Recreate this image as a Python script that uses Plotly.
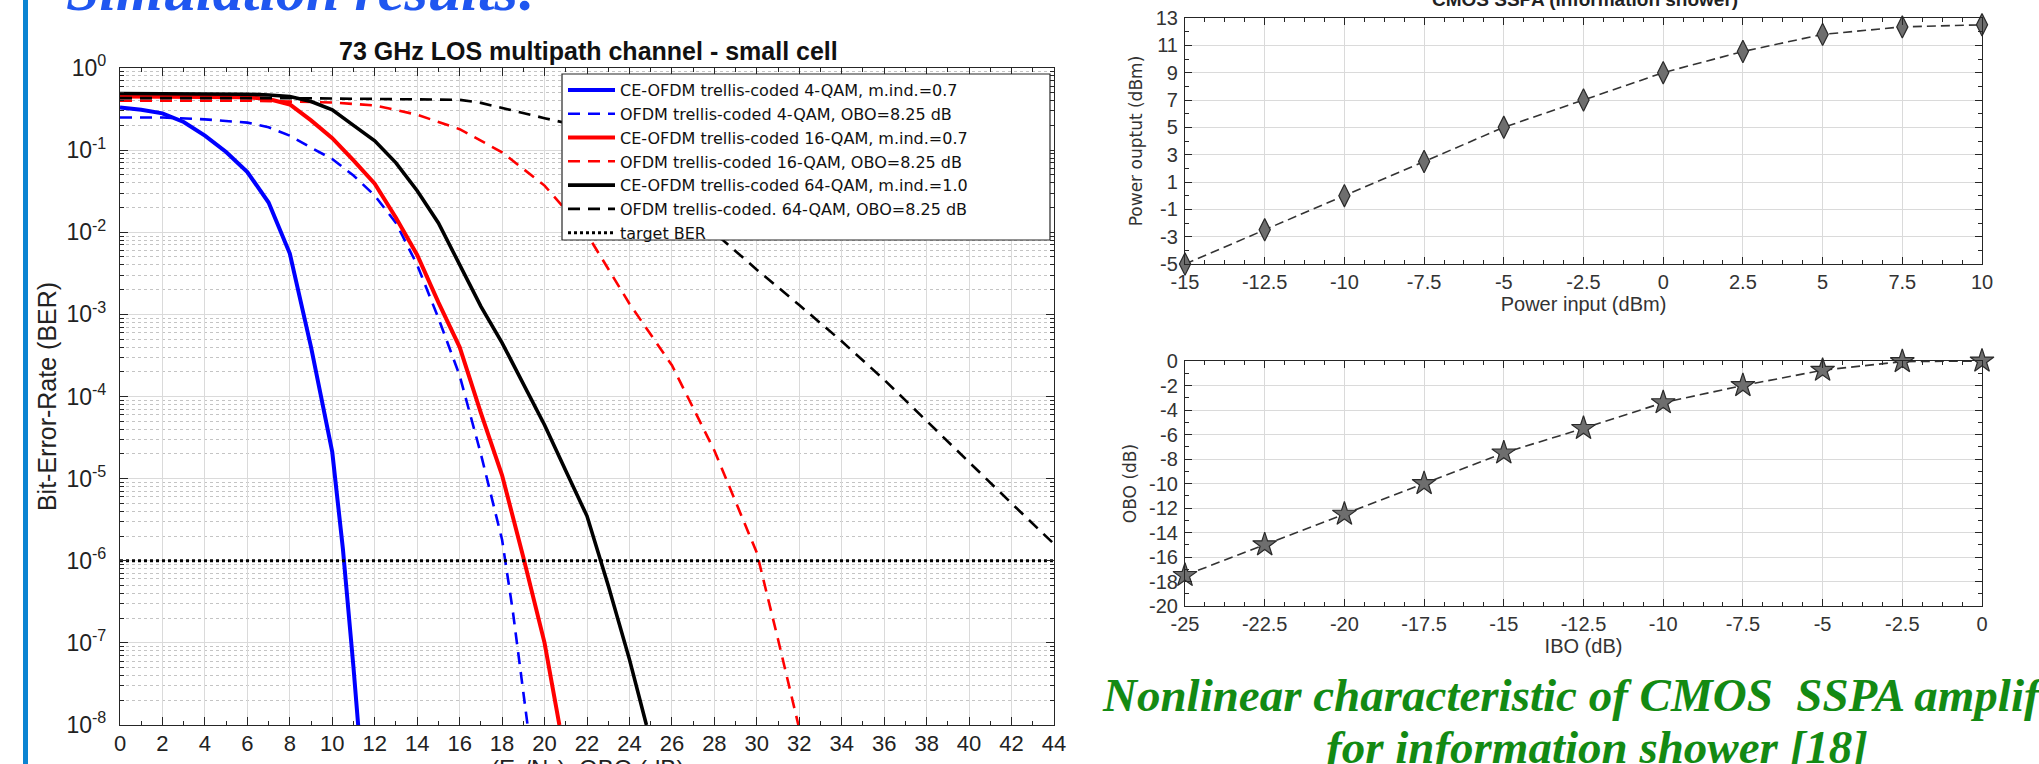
import plotly.graph_objects as go

W, H = 2039, 764

# ---------------- Left chart: BER curves ----------------
x_ce4 = [0, 1, 2, 3, 4, 5, 6, 7, 8, 9, 10, 10.5, 11, 11.25]
y_ce4 = [0.33, 0.31, 0.28, 0.22, 0.15, 0.095, 0.054, 0.023, 0.0055, 4.0e-4, 2.1e-5, 1.4e-6, 5e-8, 8e-9]

x_ofdm4 = [0, 2, 4, 6, 7, 8, 9, 10, 11, 12, 13, 14, 15, 16, 17, 18, 18.5, 19.2]
y_ofdm4 = [0.25, 0.25, 0.237, 0.216, 0.19, 0.15, 0.107, 0.078, 0.049, 0.028, 0.013, 0.004,
           9e-4, 1.8e-4, 2e-5, 1.8e-6, 2.5e-7, 1e-8]

x_ce16 = [0, 2, 4, 6, 7, 8, 9, 10, 11, 12, 13, 14, 15, 16, 17, 18, 19, 20, 20.7]
y_ce16 = [0.45, 0.45, 0.45, 0.44, 0.42, 0.36, 0.23, 0.14, 0.075, 0.039, 0.015, 0.0053,
          1.4e-3, 4e-4, 6.3e-5, 1.1e-5, 1.1e-6, 1e-7, 1e-8]

x_ofdm16 = [0, 2, 4, 6, 8, 10, 12, 14, 16, 18, 20, 22, 24, 26, 28, 30, 31, 32]
y_ofdm16 = [0.40, 0.40, 0.40, 0.40, 0.39, 0.38, 0.35, 0.27, 0.18, 0.094, 0.037, 0.0095,
            1.35e-3, 2.4e-4, 2.2e-5, 1.25e-6, 1.1e-7, 9e-9]

x_ce64 = [0, 2, 4, 6, 7, 8, 9, 10, 11, 12, 13, 14, 15, 16, 17, 18, 19, 20, 21, 22, 23, 24, 24.8]
y_ce64 = [0.49, 0.49, 0.49, 0.48, 0.47, 0.45, 0.39, 0.31, 0.2, 0.13, 0.07, 0.032, 0.013, 0.004,
          1.25e-3, 4.5e-4, 1.4e-4, 4.5e-5, 1.25e-5, 3.5e-6, 5e-7, 6.3e-8, 1e-8]

x_ofdm64 = [0, 4, 8, 12, 16, 17, 18, 19, 20, 21, 22, 23, 24, 25, 26, 27, 28, 30, 32, 34, 36, 38, 40, 42, 44]
y_ofdm64 = [0.43, 0.43, 0.43, 0.42, 0.41, 0.376, 0.324, 0.279, 0.245, 0.214, 0.158, 0.11, 0.072,
            0.046, 0.028, 0.0166, 0.01, 3.5e-3, 1.3e-3, 4.7e-4, 1.6e-4, 5e-5, 1.6e-5, 5e-6, 1.6e-6]

x_target = [0, 44]
y_target = [1e-6, 1e-6]

ber_tickvals = [1e0, 1e-1, 1e-2, 1e-3, 1e-4, 1e-5, 1e-6, 1e-7, 1e-8]
ber_ticktext = ["10<sup>0</sup>", "10<sup>-1</sup>", "10<sup>-2</sup>", "10<sup>-3</sup>",
                "10<sup>-4</sup>", "10<sup>-5</sup>", "10<sup>-6</sup>", "10<sup>-7</sup>",
                "10<sup>-8</sup>"]
ber_minor = [k * 10.0 ** e for e in range(-8, 0) for k in range(2, 10)]

# ---------------- Right top: AM/AM ----------------
p_in = [-15, -12.5, -10, -7.5, -5, -2.5, 0, 2.5, 5, 7.5, 10]
p_out = [-5, -2.5, 0, 2.5, 5, 7, 9, 10.55, 11.8, 12.35, 12.5]
pin_ticks = [-15, -12.5, -10, -7.5, -5, -2.5, 0, 2.5, 5, 7.5, 10]
pin_text = ["-15", "-12.5", "-10", "-7.5", "-5", "-2.5", "0", "2.5", "5", "7.5", "10"]
pout_ticks = [-5, -3, -1, 1, 3, 5, 7, 9, 11, 13]
pout_text = ["-5", "-3", "-1", "1", "3", "5", "7", "9", "11", "13"]

# ---------------- Right bottom: IBO/OBO ----------------
ibo = [-25, -22.5, -20, -17.5, -15, -12.5, -10, -7.5, -5, -2.5, 0]
obo = [-17.5, -15, -12.5, -10, -7.5, -5.5, -3.4, -2, -0.75, -0.05, 0]
ibo_ticks = [-25, -22.5, -20, -17.5, -15, -12.5, -10, -7.5, -5, -2.5, 0]
ibo_text = ["-25", "-22.5", "-20", "-17.5", "-15", "-12.5", "-10", "-7.5", "-5", "-2.5", "0"]
obo_ticks = [0, -2, -4, -6, -8, -10, -12, -14, -16, -18, -20]
obo_text = ["0", "-2", "-4", "-6", "-8", "-10", "-12", "-14", "-16", "-18", "-20"]

SANS = "Liberation Sans, Arial, sans-serif"
NARROW = "Liberation Sans Narrow, Arial Narrow, Liberation Sans, sans-serif"
SERIF = "Liberation Serif, Times New Roman, serif"

fig = go.Figure()

def ber_trace(x, y, name, color, dash, width):
    return go.Scatter(x=x, y=y, mode="lines", name=name,
                      line=dict(color=color, dash=dash, width=width),
                      xaxis="x", yaxis="y")

fig.add_trace(ber_trace(x_ce4, y_ce4, "CE-OFDM trellis-coded 4-QAM, m.ind.=0.7", "#0000ff", "solid", 4))
fig.add_trace(ber_trace(x_ofdm4, y_ofdm4, "OFDM trellis-coded 4-QAM, OBO=8.25 dB", "#0000ff", "12px,8px", 2.6))
fig.add_trace(ber_trace(x_ce16, y_ce16, "CE-OFDM trellis-coded 16-QAM, m.ind.=0.7", "#ff0000", "solid", 4))
fig.add_trace(ber_trace(x_ofdm16, y_ofdm16, "OFDM trellis-coded 16-QAM, OBO=8.25 dB", "#ff0000", "12px,8px", 2.6))
fig.add_trace(ber_trace(x_ce64, y_ce64, "CE-OFDM trellis-coded 64-QAM, m.ind.=1.0", "#000000", "solid", 3.6))
fig.add_trace(ber_trace(x_ofdm64, y_ofdm64, "OFDM trellis-coded. 64-QAM, OBO=8.25 dB", "#000000", "12px,8px", 2.6))
fig.add_trace(ber_trace(x_target, y_target, "target BER", "#000000", "3px,3px", 3))

fig.add_trace(go.Scatter(
    x=p_in, y=p_out, mode="lines+markers", showlegend=False, cliponaxis=False,
    line=dict(color="#333333", dash="9px,5px", width=1.6),
    marker=dict(symbol="diamond-tall", size=16, color="#6e6e6e",
                line=dict(color="#2a2a2a", width=1.2)),
    xaxis="x2", yaxis="y2"))

fig.add_trace(go.Scatter(
    x=ibo, y=obo, mode="lines+markers", showlegend=False, cliponaxis=False,
    line=dict(color="#333333", dash="9px,5px", width=1.6),
    marker=dict(symbol="star", size=18, color="#6e6e6e",
                line=dict(color="#2a2a2a", width=1.2)),
    xaxis="x3", yaxis="y3"))

def px_x(p):
    return p / W

def px_y(p):
    return 1 - p / H

AX = "#262626"
GRID = "#dadada"

def frame(**kw):
    base = dict(ticks="inside", tickcolor=AX, mirror="allticks",
                showline=True, linecolor=AX, linewidth=1.2,
                showgrid=True, gridcolor=GRID, gridwidth=1, zeroline=False,
                automargin=False)
    base.update(kw)
    return base

fig.update_layout(
    width=W, height=H,
    margin=dict(l=0, r=0, t=0, b=0, autoexpand=False),
    paper_bgcolor="white", plot_bgcolor="white",
    showlegend=True,
    legend=dict(
        x=px_x(563), y=px_y(73), xanchor="left", yanchor="top",
        font=dict(family="DejaVu Sans, sans-serif", size=16, color="#111111"),
        bgcolor="rgba(0,0,0,0)", borderwidth=0,
        itemwidth=47, tracegroupgap=0,
    ),
    xaxis=frame(
        domain=[px_x(120), px_x(1054)], range=[0, 44], anchor="y",
        tickmode="linear", tick0=0, dtick=2, ticklen=8,
        tickfont=dict(family=SANS, size=22, color="#222222"),
        ticklabelstandoff=-2,
        minor=dict(dtick=1, ticks="inside", ticklen=4, tickcolor=AX, showgrid=False),
    ),
    yaxis=frame(
        domain=[px_y(725), px_y(68)], type="log", range=[-8, 0], anchor="x",
        tickmode="array", tickvals=ber_tickvals, ticktext=ber_ticktext, ticklen=8,
        tickfont=dict(family=SANS, size=23, color="#222222"),
        ticklabelstandoff=8,
        minor=dict(tickvals=ber_minor, ticks="inside", ticklen=4, tickcolor=AX,
                   showgrid=True, gridcolor="#c4c4c4", griddash="dot", gridwidth=1),
        title=dict(text="Bit-Error-Rate (BER)",
                   font=dict(family=SANS, size=25, color="#222222"), standoff=2),
    ),
    xaxis2=frame(
        domain=[px_x(1185), px_x(1982)], range=[-15, 10], anchor="y2",
        tickmode="array", tickvals=pin_ticks, ticktext=pin_text, ticklen=7,
        tickfont=dict(family=NARROW, size=20, color="#333333"),
        minor=dict(dtick=0.625, tick0=-15, ticks="inside", ticklen=4, tickcolor=AX, showgrid=False),
        title=dict(text="Power input (dBm)",
                   font=dict(family=NARROW, size=20, color="#333333"), standoff=4),
    ),
    yaxis2=frame(
        domain=[px_y(264), px_y(18)], range=[-5, 13], anchor="x2",
        tickmode="array", tickvals=pout_ticks, ticktext=pout_text, ticklen=7,
        tickfont=dict(family=NARROW, size=20, color="#333333"),
        ticklabelstandoff=2,
        minor=dict(dtick=1, tick0=-5, ticks="inside", ticklen=4, tickcolor=AX, showgrid=False),
        title=dict(text="Power ouptut (dBm)",
                   font=dict(family="DejaVu Sans, sans-serif", size=17, color="#333333"), standoff=8),
    ),
    xaxis3=frame(
        domain=[px_x(1185), px_x(1982)], range=[-25, 0], anchor="y3",
        tickmode="array", tickvals=ibo_ticks, ticktext=ibo_text, ticklen=7,
        tickfont=dict(family=NARROW, size=20, color="#333333"),
        minor=dict(dtick=0.625, tick0=-25, ticks="inside", ticklen=4, tickcolor=AX, showgrid=False),
        title=dict(text="IBO (dB)",
                   font=dict(family=NARROW, size=20, color="#333333"), standoff=4),
    ),
    yaxis3=frame(
        domain=[px_y(606), px_y(361)], range=[-20, 0], anchor="x3",
        tickmode="array", tickvals=obo_ticks, ticktext=obo_text, ticklen=7,
        tickfont=dict(family=NARROW, size=20, color="#333333"),
        ticklabelstandoff=2,
        minor=dict(dtick=1, tick0=-20, ticks="inside", ticklen=4, tickcolor=AX, showgrid=False),
        title=dict(text="OBO (dB)",
                   font=dict(family="DejaVu Sans, sans-serif", size=17, color="#333333"), standoff=8),
    ),
)

# legend frame (white box behind the legend entries)
fig.add_shape(type="rect", xref="paper", yref="paper",
              x0=px_x(562), x1=px_x(1050), y0=px_y(240), y1=px_y(74),
              fillcolor="white", line=dict(color=AX, width=1.2), layer="above")

# slide decorations
fig.add_shape(type="rect", xref="paper", yref="paper",
              x0=px_x(23), x1=px_x(28), y0=0, y1=1,
              fillcolor="#0b84d2", line=dict(width=0), layer="above")

fig.add_annotation(text="<b><i>Simulation results:</i></b>", xref="paper", yref="paper",
                   x=px_x(64), y=px_y(25), xanchor="left", yanchor="bottom", showarrow=False,
                   font=dict(family=SERIF, size=60, color="#1f56f0"))

fig.add_annotation(text="<b>73 GHz LOS multipath channel - small cell</b>", xref="paper", yref="paper",
                   x=px_x(588), y=px_y(67), xanchor="center", yanchor="bottom", showarrow=False,
                   font=dict(family=SANS, size=25, color="#111111"))

fig.add_annotation(text="(E<sub>b</sub>/N<sub>o</sub>), OBO (dB)", xref="paper", yref="paper",
                   x=px_x(587), y=px_y(753), xanchor="center", yanchor="top", showarrow=False,
                   font=dict(family=SANS, size=24, color="#222222"))

fig.add_annotation(text="<b>CMOS SSPA (information shower)</b>", xref="paper", yref="paper",
                   x=px_x(1585), y=px_y(12), xanchor="center", yanchor="bottom", showarrow=False,
                   font=dict(family=NARROW, size=19, color="#222222"))

fig.add_annotation(text="<b><i>Nonlinear characteristic of CMOS  SSPA amplifier</i></b>",
                   xref="paper", yref="paper",
                   x=px_x(1597), y=px_y(723), xanchor="center", yanchor="bottom", showarrow=False,
                   font=dict(family=SERIF, size=47, color="#138a13"))
fig.add_annotation(text="<b><i>for information shower [18]</i></b>",
                   xref="paper", yref="paper",
                   x=px_x(1597), y=px_y(775), xanchor="center", yanchor="bottom", showarrow=False,
                   font=dict(family=SERIF, size=47, color="#138a13"))

fig.write_html("out.html", config={"displayModeBar": False},
               post_script="document.body.style.margin='0';document.body.style.padding='0';")
